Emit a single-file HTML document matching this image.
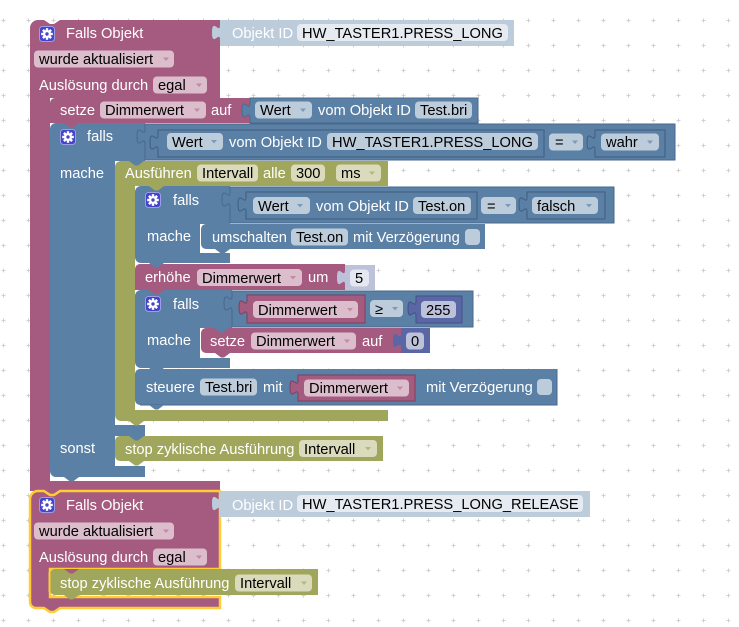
<!DOCTYPE html>
<html><head><meta charset="utf-8"><style>
html,body{margin:0;padding:0;background:#fff;}
svg{display:block}
text{font-family:"Liberation Sans",Arial,sans-serif;font-size:14.67px;}
.l{fill:#fff}
.f{fill:#000}
</style></head><body>
<svg width="739" height="627" viewBox="0 0 739 627" xmlns="http://www.w3.org/2000/svg">
<defs>
<pattern id="grid" x="0" y="0" width="25" height="25" patternUnits="userSpaceOnUse">
<path d="M1.5,20.5h4M3.5,18.5v4" stroke="#d0d0d0" stroke-width="1"/>
</pattern>
<g id="gear">
<rect x="0.5" y="0.5" width="15" height="15" rx="3" fill="#4444cc" stroke="#9c9ce8" stroke-width="1"/>
<g transform="translate(8,8)" fill="#fff">
<circle r="4"/>
<rect x="-1.2" y="-5.8" width="2.4" height="11.6"/>
<rect x="-1.2" y="-5.8" width="2.4" height="11.6" transform="rotate(45)"/>
<rect x="-1.2" y="-5.8" width="2.4" height="11.6" transform="rotate(90)"/>
<rect x="-1.2" y="-5.8" width="2.4" height="11.6" transform="rotate(135)"/>
<circle r="1.7" fill="#4444cc"/>
</g>
</g>
</defs>
<rect width="739" height="627" fill="#fff"/>
<rect width="739" height="627" fill="url(#grid)"/>

<!-- ===== Event 1 ===== -->
<path d="M30,28 A8,8 0 0 1 38,20 H44 L50,24 H54 L60,20 H220 V98 H50 V481 H220 V491 H30 Z" fill="#a55b80"/>
<!-- Objekt ID 1 -->
<path d="M220,20 H514 V46 H220 V40 c0,-10 -8,8 -8,-7.5 s8,2.5 8,-7.5 Z" fill="#bdccdb"/>

<!-- setze 1 -->
<path d="M50,103 A5,5 0 0 1 55,98 H250 V123 H50 Z" fill="#a55b80"/>
<path d="M250,98 H478 V123 H250 V118 c0,-10 -8,8 -8,-7.5 s8,2.5 8,-7.5 Z" fill="#5b80a5" stroke="#4a6a8c" stroke-width="1"/>

<!-- If block 1 -->
<path d="M50,129 A6,6 0 0 1 56,123 H145 V161 H115 V425 H145 V436 H115 V466 H145 V477 H56 A6,6 0 0 1 50,471 Z" fill="#5b80a5"/>
<!-- compare 1 -->
<path d="M145,124 H675 V160 H145 V144 c0,-10 -8,8 -8,-7.5 s8,2.5 8,-7.5 Z" fill="#5b80a5" stroke="#48678a" stroke-width="1"/>
<path d="M158,130 H544 V157 H158 V150 c0,-10 -8,8 -8,-7.5 s8,2.5 8,-7.5 Z" fill="#5b80a5" stroke="#3f5d7d" stroke-width="1"/>
<path d="M595,130 H665 V157 H595 V150 c0,-10 -8,8 -8,-7.5 s8,2.5 8,-7.5 Z" fill="#5b80a5" stroke="#3f5d7d" stroke-width="1"/>

<!-- Olive Ausführen -->
<path d="M115,167 A6,6 0 0 1 121,161 H388 V186 H135 V410 H388 V421 H121 A6,6 0 0 1 115,415 Z" fill="#a0a65c"/>

<!-- If block 2 -->
<path d="M135,192 A6,6 0 0 1 141,186 H230 V224 H200 V253 H230 V263 H141 A6,6 0 0 1 135,257 Z" fill="#5b80a5"/>
<path d="M230,187 H614 V223 H230 V207 c0,-10 -8,8 -8,-7.5 s8,2.5 8,-7.5 Z" fill="#5b80a5" stroke="#48678a" stroke-width="1"/>
<path d="M246,192 H477 V219 H246 V212 c0,-10 -8,8 -8,-7.5 s8,2.5 8,-7.5 Z" fill="#5b80a5" stroke="#3f5d7d" stroke-width="1"/>
<path d="M527,192 H605 V219 H527 V212 c0,-10 -8,8 -8,-7.5 s8,2.5 8,-7.5 Z" fill="#5b80a5" stroke="#3f5d7d" stroke-width="1"/>
<!-- umschalten -->
<path d="M201,229 A5,5 0 0 1 206,224 H485 V249 H206 A5,5 0 0 1 201,244 Z" fill="#5b80a5"/>

<!-- erhöhe -->
<path d="M135,269 A5,5 0 0 1 140,264 H345 V290 H135 Z" fill="#a55b80"/>
<path d="M345,265 H375 V290 H345 V285 c0,-10 -8,8 -8,-7.5 s8,2.5 8,-7.5 Z" fill="#bdc2db"/>

<!-- If block 3 -->
<path d="M135,296 A6,6 0 0 1 141,290 H232 V328 H200 V358 H230 V368 H141 A6,6 0 0 1 135,362 Z" fill="#5b80a5"/>
<path d="M232,291 H473 V327 H232 V311 c0,-10 -8,8 -8,-7.5 s8,2.5 8,-7.5 Z" fill="#5b80a5" stroke="#48678a" stroke-width="1"/>
<path d="M247,295 H365 V323 H247 V315 c0,-10 -8,8 -8,-7.5 s8,2.5 8,-7.5 Z" fill="#a55b80" stroke="#7a3f5d" stroke-width="1"/>
<path d="M416,296 H462 V323 H416 V316 c0,-10 -8,8 -8,-7.5 s8,2.5 8,-7.5 Z" fill="#5b67a5" stroke="#454f85" stroke-width="1"/>
<!-- setze 2 -->
<path d="M201,333 A5,5 0 0 1 206,328 H401 V353 H206 A5,5 0 0 1 201,348 Z" fill="#a55b80"/>
<path d="M401,328 H430 V353 H401 V348 c0,-10 -8,8 -8,-7.5 s8,2.5 8,-7.5 Z" fill="#5b67a5"/>

<!-- steuere -->
<path d="M135,374 A5,5 0 0 1 140,369 H557 V405 H140 A5,5 0 0 1 135,400 Z" fill="#5b80a5"/>
<path d="M557,369 V405 H140" fill="none" stroke="#48678a" stroke-width="1"/>
<path d="M298,375 H415 V401 H298 V395 c0,-10 -8,8 -8,-7.5 s8,2.5 8,-7.5 Z" fill="#a55b80" stroke="#7a3f5d" stroke-width="1"/>

<!-- stop 1 -->
<path d="M115,441 A5,5 0 0 1 120,436 H383 V461 H120 A5,5 0 0 1 115,456 Z" fill="#a0a65c"/>

<!-- tabs (event 1 stack) -->
<path d="M64,123 l6,4.5 h3 l6,-4.5 z" fill="#a55b80"/>
<path d="M129,161 l6,4.5 h3 l6,-4.5 z" fill="#5b80a5"/>
<path d="M149,186 l6,4.5 h3 l6,-4.5 z" fill="#a0a65c"/>
<path d="M214,224 l6,4.5 h3 l6,-4.5 z" fill="#5b80a5"/>
<path d="M215,249 l6,4.5 h3 l6,-4.5 z" fill="#5b80a5"/>
<path d="M149,263 l6,4.5 h3 l6,-4.5 z" fill="#5b80a5"/>
<path d="M149,290 l6,4.5 h3 l6,-4.5 z" fill="#a55b80"/>
<path d="M214,328 l6,4.5 h3 l6,-4.5 z" fill="#5b80a5"/>
<path d="M215,353 l6,4.5 h3 l6,-4.5 z" fill="#a55b80"/>
<path d="M149,368 l6,4.5 h3 l6,-4.5 z" fill="#5b80a5"/>
<path d="M149,405 l6,4.5 h3 l6,-4.5 z" fill="#5b80a5"/>
<path d="M129,421 l6,4.5 h3 l6,-4.5 z" fill="#a0a65c"/>
<path d="M129,436 l6,4.5 h3 l6,-4.5 z" fill="#5b80a5"/>
<path d="M129,461 l6,4.5 h3 l6,-4.5 z" fill="#a0a65c"/>
<path d="M64,477 l6,4.5 h3 l6,-4.5 z" fill="#5b80a5"/>
<path d="M44,491 l6,4.5 h3 l6,-4.5 z" fill="#a55b80"/>

<!-- ===== Event 2 ===== -->
<path d="M30,499 A8,8 0 0 1 38,491 H44 L50,495 H54 L60,491 H220 V569 H50 V597 H220 V608 H60 L54,612 H50 L44,608 H36 A6,6 0 0 1 30,602 Z" fill="#a55b80" stroke="#fc3" stroke-width="2.5"/>
<path d="M220,491 H590 V517 H220 V511 c0,-10 -8,8 -8,-7.5 s8,2.5 8,-7.5 Z" fill="#bdccdb"/>
<path d="M50,574 A5,5 0 0 1 55,569 H318 V595 H55 A5,5 0 0 1 50,590 Z" fill="#a0a65c"/>
<path d="M49.5,572 V592" stroke="#fc3" stroke-width="2"/>
<path d="M64,569 l6,4.5 h3 l6,-4.5 z" fill="#a55b80"/>
<path d="M64,595 l6,4.5 h3 l6,-4.5 z" fill="#a0a65c"/>

<!-- gears -->
<use href="#gear" x="39" y="26"/>
<use href="#gear" x="60" y="129"/>
<use href="#gear" x="145" y="192"/>
<use href="#gear" x="145" y="296"/>
<use href="#gear" x="39" y="497"/>

<!-- ===== Fields ===== -->
<!-- event 1 -->
<rect x="297" y="24" width="211" height="17" rx="4" fill="#e5ebf1"/>
<text class="f" x="302" y="38">HW_TASTER1.PRESS_LONG</text>
<rect x="34" y="50.5" width="140" height="17" rx="4" fill="#dbbdcc"/>
<text class="f" x="39" y="64">wurde aktualisiert</text>
<path d="M163,57.5 h6 l-3,3.5 z" fill="#c08aa6"/>
<rect x="153" y="76.5" width="54" height="17" rx="4" fill="#dbbdcc"/>
<text class="f" x="158" y="90">egal</text>
<path d="M196,83.5 h6 l-3,3.5 z" fill="#c08aa6"/>
<!-- setze 1 -->
<rect x="100" y="101.5" width="106" height="17" rx="4" fill="#dbbdcc"/>
<text class="f" x="105" y="115">Dimmerwert</text>
<path d="M194,108.5 h6 l-3,3.5 z" fill="#c08aa6"/>
<rect x="255" y="101.5" width="57" height="17" rx="4" fill="#bdccdb"/>
<text class="f" x="260" y="115">Wert</text>
<path d="M300,108.5 h6 l-3,3.5 z" fill="#7d9aba"/>
<rect x="415" y="101.5" width="57" height="17" rx="4" fill="#bdccdb"/>
<text class="f" x="420" y="115">Test.bri</text>
<!-- compare 1 -->
<rect x="167" y="133" width="56" height="17" rx="4" fill="#bdccdb"/>
<text class="f" x="172" y="147">Wert</text>
<path d="M211,140 h6 l-3,3.5 z" fill="#7d9aba"/>
<rect x="327" y="133" width="211" height="17" rx="4" fill="#bdccdb"/>
<text class="f" x="332" y="147">HW_TASTER1.PRESS_LONG</text>
<rect x="549" y="133.5" width="34" height="17" rx="4" fill="#bdccdb"/>
<text class="f" x="555" y="147">=</text>
<path d="M572,140.5 h6 l-3,3.5 z" fill="#7d9aba"/>
<rect x="601" y="133.5" width="58" height="17" rx="4" fill="#bdccdb"/>
<text class="f" x="606" y="147">wahr</text>
<path d="M647,140.5 h6 l-3,3.5 z" fill="#7d9aba"/>
<!-- olive -->
<rect x="197" y="164.5" width="61" height="17" rx="4" fill="#dadbbd"/>
<text class="f" x="202" y="178">Intervall</text>
<rect x="291" y="164.5" width="34" height="17" rx="4" fill="#dadbbd"/>
<text class="f" x="296" y="178">300</text>
<rect x="336" y="164.5" width="45" height="17" rx="4" fill="#dadbbd"/>
<text class="f" x="341" y="178">ms</text>
<path d="M369,171.5 h6 l-3,3.5 z" fill="#b3b87c"/>
<!-- compare 2 -->
<rect x="253" y="197" width="57" height="17" rx="4" fill="#bdccdb"/>
<text class="f" x="258" y="211">Wert</text>
<path d="M297,204 h6 l-3,3.5 z" fill="#7d9aba"/>
<rect x="413" y="197" width="58" height="17" rx="4" fill="#bdccdb"/>
<text class="f" x="418" y="211">Test.on</text>
<rect x="481" y="197" width="35" height="17" rx="4" fill="#bdccdb"/>
<text class="f" x="487" y="211">=</text>
<path d="M505,204 h6 l-3,3.5 z" fill="#7d9aba"/>
<rect x="532" y="197" width="66" height="17" rx="4" fill="#bdccdb"/>
<text class="f" x="537" y="211">falsch</text>
<path d="M586,204 h6 l-3,3.5 z" fill="#7d9aba"/>
<!-- umschalten -->
<rect x="291" y="228.5" width="57" height="17" rx="4" fill="#bdccdb"/>
<text class="f" x="296" y="242">Test.on</text>
<rect x="465" y="229" width="15" height="16" rx="4" fill="#bdccdb"/>
<!-- erhöhe -->
<rect x="197" y="269" width="105" height="17" rx="4" fill="#dbbdcc"/>
<text class="f" x="202" y="283">Dimmerwert</text>
<path d="M290,276 h6 l-3,3.5 z" fill="#c08aa6"/>
<rect x="350" y="269.5" width="19" height="17" rx="4" fill="#e5e7f1"/>
<text class="f" x="355" y="283">5</text>
<!-- compare 3 -->
<rect x="253" y="301" width="105" height="17" rx="4" fill="#dbbdcc"/>
<text class="f" x="258" y="315">Dimmerwert</text>
<path d="M347,308 h6 l-3,3.5 z" fill="#c08aa6"/>
<rect x="370" y="300" width="33" height="17" rx="4" fill="#bdccdb"/>
<text class="f" x="375" y="314">≥</text>
<path d="M392,307 h6 l-3,3.5 z" fill="#7d9aba"/>
<rect x="421" y="301" width="35" height="17" rx="4" fill="#bdc2db"/>
<text class="f" x="426" y="315">255</text>
<!-- setze 2 -->
<rect x="251" y="332.5" width="105" height="17" rx="4" fill="#dbbdcc"/>
<text class="f" x="256" y="346">Dimmerwert</text>
<path d="M344,339.5 h6 l-3,3.5 z" fill="#c08aa6"/>
<rect x="406" y="332.5" width="18" height="17" rx="4" fill="#bdc2db"/>
<text class="f" x="411" y="346">0</text>
<!-- steuere -->
<rect x="200" y="378.5" width="57" height="17" rx="4" fill="#bdccdb"/>
<text class="f" x="205" y="392">Test.bri</text>
<rect x="304" y="379.5" width="105" height="17" rx="4" fill="#dbbdcc"/>
<text class="f" x="309" y="393">Dimmerwert</text>
<path d="M397,386.5 h6 l-3,3.5 z" fill="#c08aa6"/>
<rect x="537" y="379" width="15" height="16" rx="4" fill="#bdccdb"/>
<!-- stop 1 -->
<rect x="299" y="440" width="78" height="17" rx="4" fill="#dadbbd"/>
<text class="f" x="304" y="454">Intervall</text>
<path d="M365,447 h6 l-3,3.5 z" fill="#b3b87c"/>
<!-- event 2 -->
<rect x="297" y="495" width="286" height="17" rx="4" fill="#e5ebf1"/>
<text class="f" x="302" y="509">HW_TASTER1.PRESS_LONG_RELEASE</text>
<rect x="34" y="522.5" width="140" height="17" rx="4" fill="#dbbdcc"/>
<text class="f" x="39" y="536">wurde aktualisiert</text>
<path d="M163,529.5 h6 l-3,3.5 z" fill="#c08aa6"/>
<rect x="153" y="548.5" width="54" height="17" rx="4" fill="#dbbdcc"/>
<text class="f" x="158" y="562">egal</text>
<path d="M196,555.5 h6 l-3,3.5 z" fill="#c08aa6"/>
<rect x="235" y="574.5" width="77" height="17" rx="4" fill="#dadbbd"/>
<text class="f" x="240" y="588">Intervall</text>
<path d="M301,581.5 h6 l-3,3.5 z" fill="#b3b87c"/>

<!-- ===== Labels ===== -->
<text class="l" x="66" y="38">Falls Objekt</text>
<text class="l" x="232" y="38">Objekt ID</text>
<text class="l" x="39" y="90">Auslösung durch</text>
<text class="l" x="60" y="115">setze</text>
<text class="l" x="211" y="115">auf</text>
<text class="l" x="318" y="115">vom Objekt ID</text>
<text class="l" x="87" y="141">falls</text>
<text class="l" x="229" y="147">vom Objekt ID</text>
<text class="l" x="60" y="178">mache</text>
<text class="l" x="125" y="178">Ausführen</text>
<text class="l" x="263" y="178">alle</text>
<text class="l" x="173" y="205">falls</text>
<text class="l" x="316" y="211">vom Objekt ID</text>
<text class="l" x="147" y="241">mache</text>
<text class="l" x="212" y="242">umschalten</text>
<text class="l" x="353" y="242">mit Verzögerung</text>
<text class="l" x="145" y="282">erhöhe</text>
<text class="l" x="308" y="282">um</text>
<text class="l" x="173" y="309">falls</text>
<text class="l" x="147" y="345">mache</text>
<text class="l" x="210" y="346">setze</text>
<text class="l" x="362" y="346">auf</text>
<text class="l" x="146" y="392">steuere</text>
<text class="l" x="263" y="392">mit</text>
<text class="l" x="426" y="392">mit Verzögerung</text>
<text class="l" x="60" y="453">sonst</text>
<text class="l" x="125" y="454">stop zyklische Ausführung</text>
<text class="l" x="66" y="510">Falls Objekt</text>
<text class="l" x="232" y="510">Objekt ID</text>
<text class="l" x="39" y="562">Auslösung durch</text>
<text class="l" x="60" y="588">stop zyklische Ausführung</text>
</svg>
</body></html>
